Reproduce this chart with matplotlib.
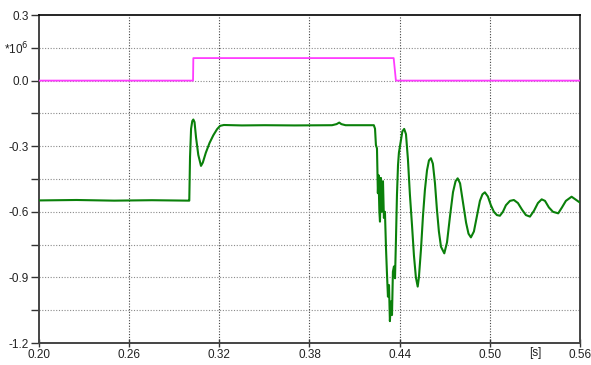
import matplotlib
matplotlib.use("Agg")
import matplotlib.pyplot as plt
import matplotlib.transforms as mtransforms

plt.rcParams['font.family'] = ['Liberation Sans', 'DejaVu Sans']

# Time axis ticks and y-axis ticks
x_ticks = [0.20, 0.26, 0.32, 0.38, 0.44, 0.50, 0.56]
x_tick_labels = ['0.20', '0.26', '0.32', '0.38', '0.44', '0.50', '0.56']
y_ticks = [0.3, 0.15, 0.0, -0.15, -0.3, -0.45, -0.6, -0.75, -0.9, -1.05, -1.2]
y_tick_labels = ['0.3', '*10$^6$', '0.0', '', '-0.3', '', '-0.6', '', '-0.9', '', '-1.2']

# Switching pulse (magenta)
pulse_t = [0.200, 0.3025, 0.3027, 0.4360, 0.4375, 0.560]
pulse_v = [0.0, 0.0, 0.103, 0.103, 0.0, 0.0]

# Measured response (green)
resp_t = [0.200, 0.225, 0.250, 0.275, 0.2999,
          0.3000, 0.3005, 0.3012, 0.3020, 0.3027, 0.3035, 0.3045, 0.3060, 0.3078,
          0.3090, 0.3110, 0.3135, 0.3160, 0.3185, 0.3205, 0.3230,
          0.335, 0.350, 0.370, 0.395, 0.398, 0.3998, 0.4012, 0.404, 0.415, 0.4228,
          0.4236, 0.4242, 0.4249, 0.4255, 0.4259, 0.4265, 0.4269, 0.4275, 0.4282,
          0.4289, 0.4295, 0.4302, 0.4309, 0.4315, 0.4322, 0.4329, 0.4335, 0.4342,
          0.4349, 0.4355, 0.4362, 0.4369, 0.4375, 0.4382, 0.4389, 0.4395, 0.4409,
          0.4418, 0.4430, 0.4442, 0.4455, 0.4468, 0.4482, 0.4495, 0.4508, 0.4520,
          0.4528, 0.4542, 0.4555, 0.4568, 0.4582, 0.4595, 0.4608, 0.4621, 0.4635,
          0.4648, 0.4661, 0.4675, 0.4697, 0.4715, 0.4735, 0.4755, 0.4772, 0.4786,
          0.4802, 0.4822, 0.4842, 0.4858, 0.4874, 0.4894, 0.4914, 0.4934, 0.4951,
          0.4967, 0.4987, 0.5007, 0.5027, 0.5047, 0.5067, 0.5087, 0.5107, 0.5134,
          0.5160, 0.5187, 0.5214, 0.5240, 0.5267, 0.5294, 0.5320, 0.5345, 0.5367,
          0.5393, 0.5420, 0.5455, 0.5480, 0.5506, 0.5544, 0.5573, 0.5606]
resp_v = [-0.548, -0.546, -0.549, -0.547, -0.549,
          -0.549, -0.35, -0.22, -0.185, -0.178, -0.19, -0.26, -0.34, -0.39,
          -0.375, -0.33, -0.285, -0.25, -0.222, -0.207, -0.203,
          -0.205, -0.204, -0.205, -0.204, -0.199, -0.192, -0.199, -0.204, -0.204, -0.204,
          -0.22, -0.295, -0.31, -0.515, -0.432, -0.60, -0.645, -0.445, -0.60,
          -0.46, -0.628, -0.60, -0.765, -0.874, -0.988, -0.935, -1.10, -1.01,
          -1.072, -0.874, -0.85, -0.904, -0.737, -0.523, -0.386, -0.33, -0.27,
          -0.232, -0.221, -0.245, -0.36, -0.52, -0.66, -0.80, -0.90, -0.942,
          -0.90, -0.77, -0.62, -0.50, -0.41, -0.365, -0.355, -0.38, -0.47,
          -0.59, -0.69, -0.76, -0.79, -0.74, -0.62, -0.51, -0.46, -0.447,
          -0.47, -0.56, -0.65, -0.70, -0.717, -0.69, -0.62, -0.55, -0.52,
          -0.511, -0.53, -0.57, -0.60, -0.615, -0.618, -0.60, -0.57, -0.55,
          -0.546, -0.56, -0.59, -0.615, -0.622, -0.595, -0.56, -0.543, -0.55,
          -0.58, -0.60, -0.607, -0.58, -0.55, -0.531, -0.545, -0.561]

fig = plt.figure(figsize=(5.91, 3.65), dpi=100)
ax = fig.add_axes([39 / 591, 22 / 365, 541 / 591, 328 / 365])

ax.set_xlim(0.20, 0.56)
ax.set_ylim(-1.2, 0.3)

# Dotted grid: darker verticals, lighter horizontals
for t in x_ticks[1:-1]:
    ax.axvline(t, color='#444444', lw=0.8, ls=(0, (1, 1.5)), zorder=1)
for v in y_ticks[1:-1]:
    ax.axhline(v, color='#8a8a8a', lw=0.8, ls=(0, (1, 1.5)), zorder=1)

ax.plot(pulse_t, pulse_v, color='#ff3cff', lw=1.3, zorder=3, clip_on=True)
ax.plot(resp_t, resp_v, color='#0a800a', lw=1.5, zorder=4, clip_on=True)

ax.set_xticks(x_ticks)
ax.set_xticklabels(x_tick_labels)
ax.set_yticks(y_ticks)
ax.set_yticklabels(y_tick_labels)
ax.tick_params(axis='x', direction='inout', length=6, width=1, color='#333333',
               labelsize=8.5, pad=1, labelcolor='#222222')
ax.tick_params(axis='y', direction='out', length=6, width=1, color='#333333',
               labelsize=8.5, pad=1.5, labelcolor='#222222')

for side in ('left', 'bottom', 'right'):
    ax.spines[side].set_color('#444444')
    ax.spines[side].set_linewidth(1.4)
ax.spines['top'].set_color('#000000')
ax.spines['top'].set_linewidth(1.2)

# Time unit label under the axis, on the tick-label row
trans = mtransforms.blended_transform_factory(ax.transData, ax.transAxes)
ax.text(0.530, -0.012, '[s]', transform=trans, ha='center', va='top',
        fontsize=8.5, color='#222222')

fig.savefig('out.png', dpi=100)
